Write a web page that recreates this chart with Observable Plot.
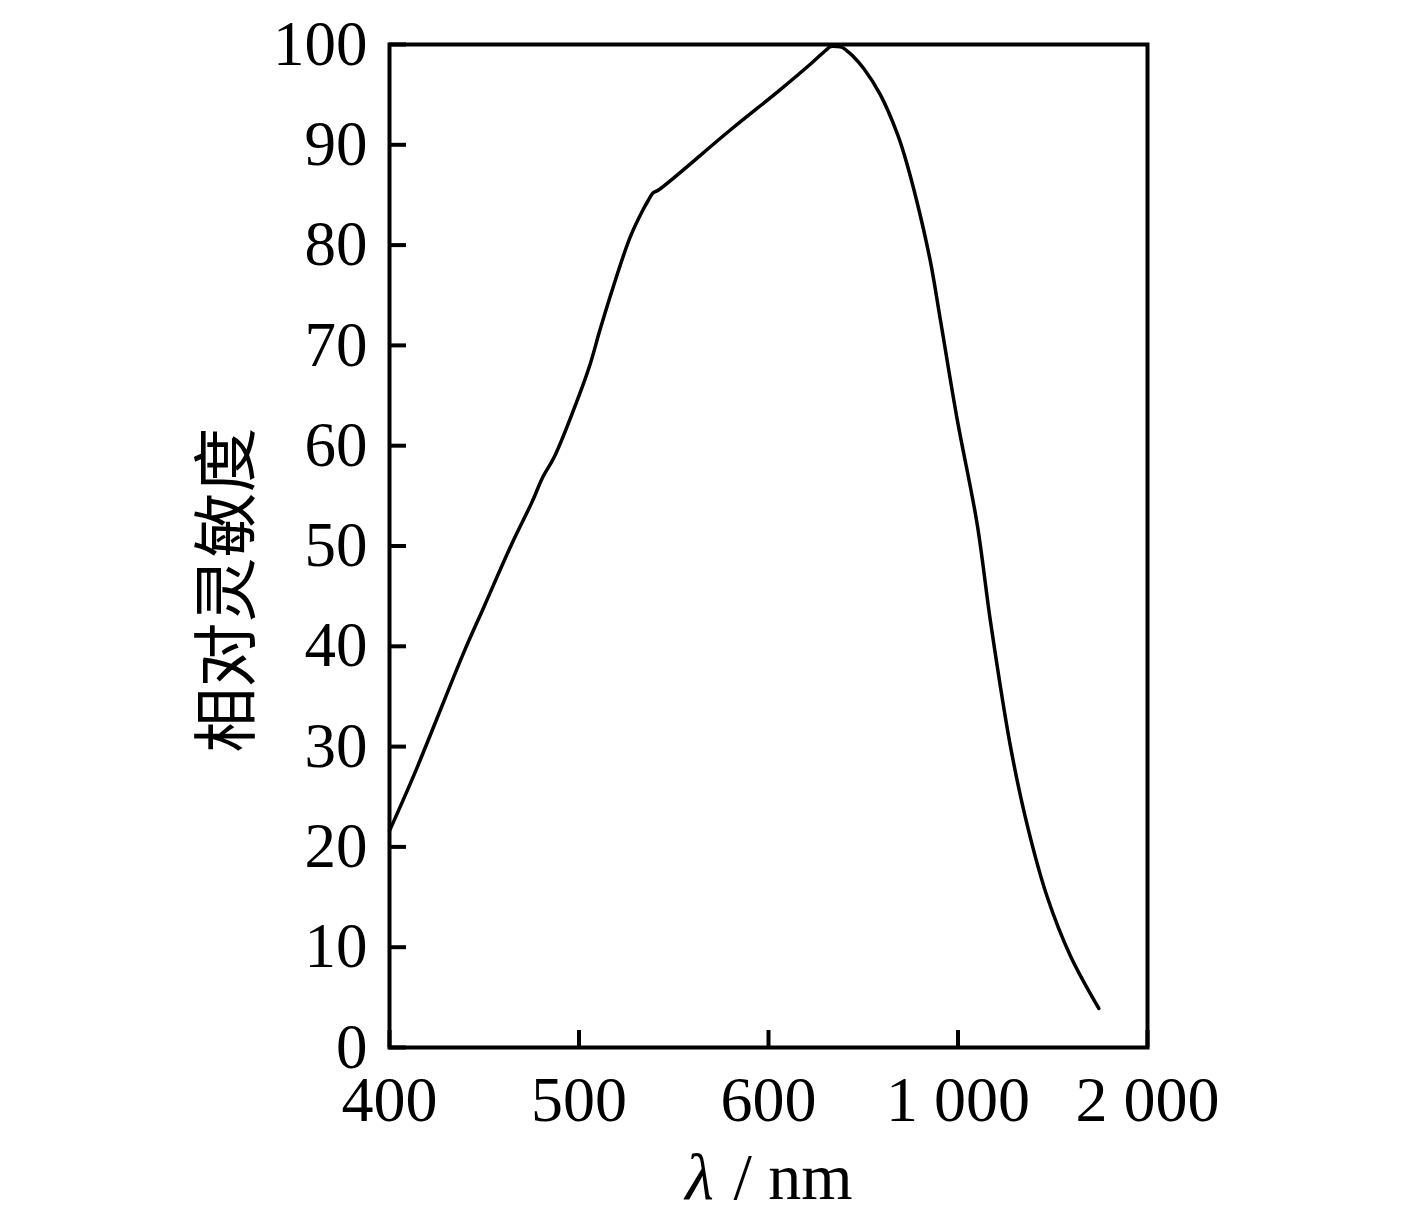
<!DOCTYPE html>
<html>
<head>
<meta charset="utf-8">
<script src="https://cdn.jsdelivr.net/npm/d3@7"></script>
<script src="https://cdn.jsdelivr.net/npm/@observablehq/plot@0.6"></script>
<style>
  html, body { margin: 0; padding: 0; background: #fff; }
</style>
</head>
<body>
<div id="chart"></div>
<script>
// Tick wavelengths (equally spaced on the axis) and their labels
const tickWavelengths = [400, 500, 600, 1000, 2000];
const tickLabels = ["400", "500", "600", "1 000", "2 000"];
const yTicks = [0, 10, 20, 30, 40, 50, 60, 70, 80, 90, 100];

// Curve: wavelength (nm) and relative sensitivity (%)
const wavelength = [400, 413, 439, 450, 465, 475, 481, 487, 501, 506, 511, 518, 527, 534, 537, 539, 542,
                    580, 625, 690, 725, 731, 745, 756, 765, 777, 801, 836, 872, 886, 914, 942, 963, 998,
                    1101, 1172, 1277, 1365, 1471, 1594, 1743];
const sensitivity = [21.6, 27.2, 39.3, 44.0, 50.4, 54.3, 56.9, 58.9, 65.5, 68.2, 71.5, 75.8, 80.8, 83.6, 84.6, 85.2, 85.5,
                     91.5, 95.5, 98.1, 99.6, 99.8, 99.8, 99.7, 99.4, 98.9, 97.6, 95.0, 91.1, 89.1, 84.2, 78.3, 72.5, 62.7,
                     52.2, 42.4, 30.0, 22.2, 15.0, 9.1, 3.9];

// Piecewise mapping: wavelength -> equally spaced axis position
const pos = d3.scaleLinear().domain(tickWavelengths).range(tickWavelengths.map((_, i) => i));
const data = wavelength.map((w, i) => ({w, x: pos(w), y: sensitivity[i]}));

const W = 1417, H = 1228;
const mL = 389, mR = 270, mT = 44, mB = 181;
const innerW = W - mL - mR, innerH = H - mT - mB;
const serif = "'Liberation Serif', 'Times New Roman', serif";
const cjk = "'Noto Sans CJK SC', 'Noto Sans CJK JP', sans-serif";

const chart = Plot.plot({
  width: W,
  height: H,
  marginLeft: mL,
  marginRight: mR,
  marginTop: mT,
  marginBottom: mB,
  style: {fontFamily: serif, fontSize: "63px", color: "black", background: "white"},
  x: {domain: [0, 4]},
  y: {domain: [0, 100]},
  marks: [
    // inner ticks
    Plot.gridX([0, 1, 2, 3, 4], {stroke: "black", strokeOpacity: 1, strokeWidth: 4, insetTop: innerH - 17}),
    Plot.gridY(yTicks, {stroke: "black", strokeOpacity: 1, strokeWidth: 4, insetRight: innerW - 17}),
    Plot.frame({stroke: "black", strokeWidth: 4}),
    Plot.axisY(yTicks, {tickSize: 0, tickPadding: 22, fontSize: 63, fontFamily: serif, label: null}),
    Plot.axisX([0, 1, 2, 3, 4], {tickSize: 0, tickPadding: 28, fontSize: 64, fontFamily: serif,
      tickFormat: (d) => tickLabels[d], label: null}),
    Plot.line(data, {x: "x", y: "y", stroke: "black", strokeWidth: 3.5, strokeLinejoin: "round", curve: "catmull-rom"}),
    // y axis title
    Plot.text(["相对灵敏度"], {frameAnchor: "left", text: (d) => d, rotate: -90, dx: -161, dy: 44,
      textAnchor: "middle", lineAnchor: "middle",
      fontSize: 65, fontFamily: cjk, fill: "black"}),
    // x axis title: italic lambda + " / nm"
    Plot.text(["λ"], {frameAnchor: "bottom", text: (d) => d, dx: -69, dy: 130, fontSize: 66,
      textAnchor: "middle", lineAnchor: "middle",
      fontStyle: "italic", fontFamily: serif, fill: "black"}),
    Plot.text(["/ nm"], {frameAnchor: "bottom", text: (d) => d, textAnchor: "start", lineAnchor: "middle",
      dx: -35, dy: 130, fontSize: 66, fontFamily: serif, fill: "black"})
  ]
});
document.getElementById("chart").appendChild(chart);
</script>
</body>
</html>
